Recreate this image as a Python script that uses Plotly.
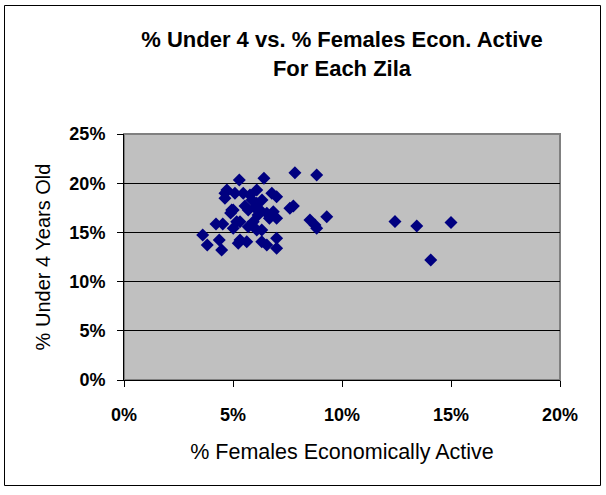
import plotly.graph_objects as go

# % Females Economically Active (x) and % Under 4 Years Old (y), in percent
females_active = [
    3.61, 3.82, 4.22, 4.53, 4.37, 4.48, 4.63, 4.72, 4.63, 5.09,
    5.29, 4.94, 4.89, 5.47, 5.78, 6.09, 6.42, 6.78, 7.00, 6.09,
    5.70, 6.24, 5.93, 5.17, 5.01, 5.32, 6.55, 6.85, 7.00, 6.67,
    6.09, 6.32, 5.32, 5.63, 5.24, 6.32, 6.55, 7.00, 7.00, 5.70,
    7.61, 7.77, 7.84, 8.84, 8.53, 8.76, 8.84, 9.30, 5.87, 6.15,
    5.55, 6.33, 5.01, 6.00, 12.43, 13.43, 15.00, 14.07,
]
under_four = [
    14.74, 13.72, 15.85, 15.85, 14.23, 13.21, 18.97, 19.30, 18.47, 18.97,
    20.33, 17.28, 16.97, 18.97, 18.80, 19.31, 20.50, 18.97, 18.63, 17.96,
    17.28, 17.28, 16.09, 16.09, 15.42, 16.09, 16.94, 17.10, 16.43, 16.43,
    15.24, 15.24, 14.23, 14.05, 13.89, 14.05, 13.72, 14.40, 13.38, 15.58,
    17.45, 17.68, 21.07, 20.83, 16.26, 15.75, 15.42, 16.60, 18.30, 16.77,
    17.68, 18.29, 17.28, 17.50, 16.10, 15.65, 16.00, 12.20,
]
x_ticks = [0, 5, 10, 15, 20]
y_ticks = [0, 5, 10, 15, 20, 25]

x_vals = [v / 100 for v in females_active]
y_vals = [v / 100 for v in under_four]

fig = go.Figure()
fig.add_trace(go.Scatter(
    x=x_vals, y=y_vals, mode="markers",
    marker=dict(symbol="diamond", size=10, color="#000080",
                line=dict(width=0)),
    showlegend=False, hoverinfo="x+y",
))

FONT = "Liberation Sans, Arial, sans-serif"

# plot area border (gray) and outer chart border (black)
fig.add_shape(type="rect", xref="paper", yref="paper", x0=0, y0=0, x1=1, y1=1,
              line=dict(color="#808080", width=2), layer="below")
fig.add_shape(type="rect", xref="paper", yref="paper",
              x0=(4.5 - 124) / 436, x1=(600.5 - 124) / 436,
              y0=(380 - 485.5) / 246, y1=(380 - 5.5) / 246,
              line=dict(color="black", width=1), layer="below")

fig.update_layout(
    width=606, height=495,
    margin=dict(l=124, r=46, t=134, b=115),
    paper_bgcolor="white", plot_bgcolor="#C0C0C0",
    font=dict(family=FONT, color="black"),
    title=dict(
        text="<b>% Under 4 vs. % Females Econ. Active<br>For Each Zila</b>",
        x=0.5, xanchor="center", xref="paper",
        y=1 - 47 / 495, yanchor="top", yref="container",
        font=dict(size=22, family=FONT),
    ),
    xaxis=dict(
        range=[0, 0.2], tickvals=[v / 100 for v in x_ticks],
        ticktext=[f"<b>{v}%</b>" for v in x_ticks],
        showgrid=False, zeroline=False,
        showline=True, linecolor="black", linewidth=1,
        ticks="outside", ticklen=6, tickcolor="black",
        tickfont=dict(size=18, family=FONT), ticklabelstandoff=12,
        title=dict(text="% Females Economically Active",
                   font=dict(size=21.5, family=FONT), standoff=20),
    ),
    yaxis=dict(
        range=[0, 0.25], tickvals=[v / 100 for v in y_ticks],
        ticktext=[f"<b>{v}%</b>" for v in y_ticks],
        showgrid=True, gridcolor="black", gridwidth=1, zeroline=False,
        showline=True, linecolor="black", linewidth=1,
        ticks="outside", ticklen=6, tickcolor="black",
        tickfont=dict(size=18, family=FONT), ticklabelstandoff=8,
        title=dict(text="% Under 4 Years Old",
                   font=dict(size=20, family=FONT), standoff=13),
    ),
)

fig.write_html("out.html", config={"displayModeBar": False},
               post_script="document.body.style.margin='0px';")
